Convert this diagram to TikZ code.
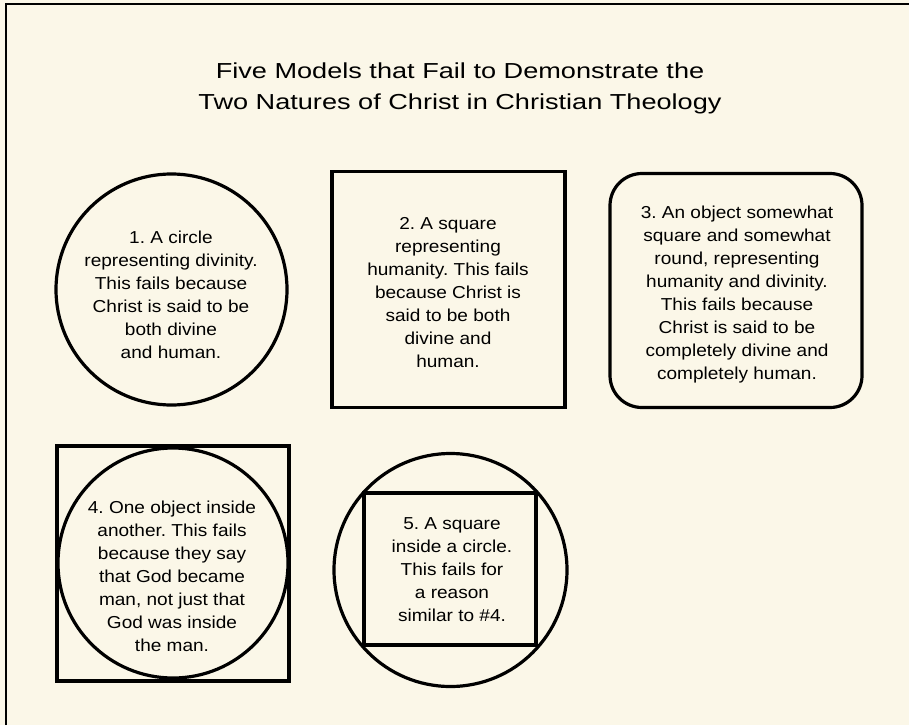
\documentclass[tikz,border=0pt]{standalone}
\usepackage{fontspec}
\setmainfont{Liberation Sans}
\newfontfamily\bodyfont[FakeStretch=1.1]{Liberation Sans}
\newfontfamily\titlefont[FakeStretch=1.25]{Liberation Sans}
\definecolor{cream}{HTML}{FBF7E8}
\frenchspacing
\begin{document}
\begin{tikzpicture}[x=1pt,y=-1pt,
  shapeline/.style={draw=black,line width=3.2pt,inner sep=0pt},
  bodytext/.style={align=center,font=\bodyfont\fontsize{17.3}{23}\selectfont,inner sep=0pt},
  titletext/.style={anchor=base,font=\titlefont\fontsize{21.7}{30}\selectfont,inner sep=0pt}]
\useasboundingbox (0,0) rectangle (909,725);
\fill[cream] (0,0) rectangle (909,725);
\coordinate (bl) at (6,725);
\coordinate (tl) at (6,4);
\coordinate (tr) at (909,4);
\draw[line width=2.5pt] (bl) -- (tl) -- (tr);
% title
\node[titletext] (t1) at (460,78.5) {Five Models that Fail to Demonstrate the};
\node[titletext] (t2) at (460,109.5) {Two Natures of Christ in Christian Theology};
% 1
\node[shapeline,circle,minimum size=231pt] (c1) at (171.5,289.5) {};
\node[bodytext] (x1) at (171,295) {1. A circle\\representing divinity.\\This fails because\\Christ is said to be\\both divine\\and human.};
% 2
\node[shapeline,rectangle,minimum width=233pt,minimum height=236pt] (s2) at (448.5,289.5) {};
\node[bodytext] (x2) at (448,293) {2. A square\\representing\\humanity. This fails\\because Christ is\\said to be both\\divine and\\human.};
% 3
\node[shapeline,rectangle,rounded corners=32pt,minimum width=252pt,minimum height=234pt] (r3) at (736,290.5) {};
\node[bodytext] (x3) at (737,294.5) {3. An object somewhat\\square and somewhat\\round, representing\\humanity and divinity.\\This fails because\\Christ is said to be\\completely divine and\\completely human.};
% 4
\node[shapeline,rectangle,minimum width=232pt,minimum height=235pt] (s4) at (173,563.5) {};
\node[shapeline,circle,minimum size=230pt] (c4) at (173,563) {};
\node[bodytext] (x4) at (172,576.5) {4. One object inside\\another. This fails\\because they say\\that God became\\man, not just that\\God was inside\\the man.};
% 5
\node[shapeline,circle,minimum size=233pt] (c5) at (450.5,570) {};
\node[shapeline,rectangle,minimum width=172pt,minimum height=152pt] (s5) at (450,569) {};
\node[bodytext] (x5) at (452,570) {5. A square\\inside a circle.\\This fails for\\a reason\\similar to \#4.};
\end{tikzpicture}
\end{document}
